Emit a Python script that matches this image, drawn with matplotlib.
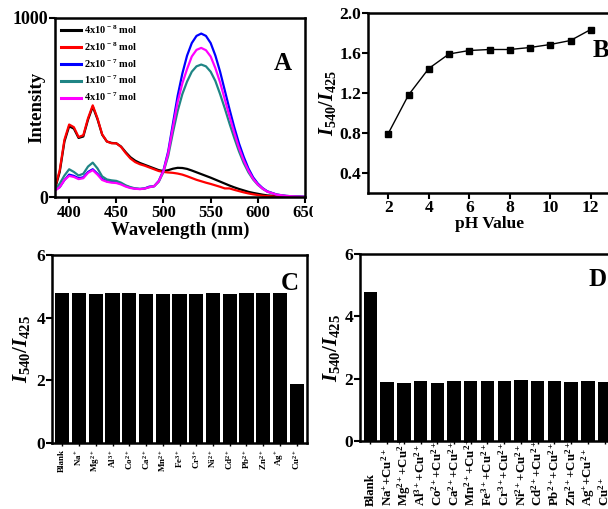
import numpy as np
import matplotlib
matplotlib.use("Agg")
import matplotlib.pyplot as plt
from matplotlib.patches import Rectangle
from matplotlib.transforms import blended_transform_factory

plt.rcParams['font.family'] = ['Liberation Serif', 'DejaVu Serif']
plt.rcParams['font.weight'] = 'bold'
plt.rcParams['mathtext.fontset'] = 'custom'
plt.rcParams['mathtext.rm'] = 'Liberation Serif:bold'
plt.rcParams['mathtext.bf'] = 'Liberation Serif:bold'
plt.rcParams['mathtext.it'] = 'Liberation Serif:bold:italic'
plt.rcParams['axes.linewidth'] = 1.8

# ---------------- Panel A data ----------------
wavelength = [385, 390, 395, 400, 405, 410, 415, 420, 425, 430, 435, 440, 445, 450, 455,
              460, 465, 470, 475, 480, 485, 490, 495, 500, 505, 510, 515, 520, 525, 530,
              535, 540, 545, 550, 555, 560, 565, 570, 575, 580, 585, 590, 595, 600, 605,
              610, 620, 630, 640, 650]
int_4e8 = [45, 140, 310, 395, 382, 330, 338, 432, 505, 435, 348, 310, 302, 300, 282,
           250, 222, 203, 190, 180, 170, 160, 150, 145, 150, 158, 163, 162, 157, 148,
           138, 128, 118, 108, 97, 86, 75, 64, 54, 45, 37, 29, 23, 18, 13,
           9, 5, 3, 1, 0]
int_2e8 = [50, 150, 320, 405, 390, 335, 345, 440, 512, 440, 350, 310, 300, 300, 280,
           245, 215, 195, 183, 175, 165, 155, 145, 140, 137, 135, 131, 125, 116, 106,
           96, 88, 80, 73, 65, 57, 48, 48, 40, 33, 26, 20, 15, 11, 7,
           5, 2, 1, 0, 0]
int_2e7 = [40, 55, 95, 125, 118, 105, 110, 140, 155, 130, 100, 88, 85, 83, 75,
           62, 52, 47, 45, 48, 58, 60, 90, 150, 255, 410, 565, 690, 790, 860,
           900, 913, 900, 860, 790, 700, 595, 490, 390, 300, 225, 160, 110, 75, 50,
           32, 14, 6, 3, 1]
int_1e7 = [40, 75, 120, 155, 140, 120, 130, 170, 192, 160, 115, 98, 93, 90, 80,
           65, 55, 48, 45, 47, 55, 60, 85, 140, 230, 360, 480, 575, 645, 700,
           730, 740, 730, 700, 648, 575, 495, 410, 330, 255, 190, 138, 98, 68, 46,
           30, 13, 6, 3, 1]
int_4e7 = [35, 55, 95, 118, 112, 100, 105, 135, 150, 125, 95, 85, 80, 78, 70,
           58, 50, 46, 44, 47, 55, 60, 88, 145, 245, 390, 530, 635, 715, 785,
           822, 833, 820, 785, 720, 640, 545, 450, 360, 275, 205, 148, 102, 70, 47,
           30, 13, 6, 3, 1]
series_labels = [r'4x10$^{\,-8}$ mol', r'2x10$^{\,-8}$ mol', r'2x10$^{\,-7}$ mol',
                 r'1x10$^{\,-7}$ mol', r'4x10$^{\,-7}$ mol']
series_colors = ['#000000', '#ff0000', '#0000ff', '#1f8585', '#ff00ff']

# ---------------- Panel B data ----------------
ph = [2, 3, 4, 5, 6, 7, 8, 9, 10, 11, 12]
ratio_ph = [0.795, 1.18, 1.445, 1.59, 1.625, 1.635, 1.635, 1.655, 1.685, 1.725, 1.835]

# ---------------- Panel C data ----------------
ions_c = ['Blank', r'Na$^{+}$', r'Mg$^{2+}$', r'Al$^{3+}$', r'Co$^{2+}$', r'Ca$^{2+}$',
          r'Mn$^{2+}$', r'Fe$^{3+}$', r'Cr$^{3+}$', r'Ni$^{2+}$', r'Cd$^{2+}$',
          r'Pb$^{2+}$', r'Zn$^{2+}$', r'Ag$^{+}$', r'Cu$^{2+}$']
ratio_c = [4.80, 4.78, 4.76, 4.78, 4.78, 4.76, 4.76, 4.76, 4.76, 4.78, 4.76, 4.78,
           4.78, 4.78, 1.88]

# ---------------- Panel D data ----------------
ions_d = ['Blank', r'Na$^{+}$+Cu$^{2+}$', r'Mg$^{2+}$+Cu$^{2+}$', r'Al$^{3+}$+Cu$^{2+}$',
          r'Co$^{2+}$+Cu$^{2+}$', r'Ca$^{2+}$+Cu$^{2+}$', r'Mn$^{2+}$+Cu$^{2+}$',
          r'Fe$^{3+}$+Cu$^{2+}$', r'Cr$^{3+}$+Cu$^{2+}$', r'Ni$^{2+}$+Cu$^{2+}$',
          r'Cd$^{2+}$+Cu$^{2+}$', r'Pb$^{2+}$+Cu$^{2+}$', r'Zn$^{2+}$+Cu$^{2+}$',
          r'Ag$^{+}$+Cu$^{2+}$', r'Cu$^{2+}$']
ratio_d = [4.79, 1.90, 1.87, 1.91, 1.86, 1.94, 1.91, 1.91, 1.94, 1.96, 1.91, 1.94,
           1.90, 1.91, 1.90]

W, H = 608, 509
fig = plt.figure(figsize=(W / 100, H / 100), dpi=100)


def box(l, t, r, b):
    return [l / W, (H - b) / H, (r - l) / W, (b - t) / H]


ylab = r'$I_{540}/I_{425}$'

# ---------------- A ----------------
axA = fig.add_axes(box(55, 18, 305, 197))
for y, lab, c in zip([int_4e8, int_2e8, int_2e7, int_1e7, int_4e7], series_labels, series_colors):
    axA.plot(wavelength, y, color=c, lw=1.6, label=lab)
axA.set_xlim(385, 650)
axA.set_ylim(0, 1000)
axA.set_xticks([400, 450, 500, 550, 600, 650])
axA.set_yticks([0, 1000])
axA.tick_params(width=1.5, length=4, direction='out')
axA.tick_params(axis='x', labelsize=12, pad=2)
axA.tick_params(axis='y', labelsize=13, pad=1)
axA.set_xlabel('Wavelength (nm)', fontsize=13.5, fontweight='bold', labelpad=0)
axA.set_ylabel('Intensity', fontsize=13.5, fontweight='bold')
axA.yaxis.set_label_coords(-0.04, 0.5)
leg = axA.legend(loc='upper left', bbox_to_anchor=(0.0, 1.0), frameon=False, fontsize=7.5,
                 handlelength=1.9, handletextpad=0.3, labelspacing=0.42, borderaxespad=0.15)
for ln in leg.get_lines():
    ln.set_linewidth(2.2)
axA.text(0.912, 0.745, 'A', transform=axA.transAxes, fontsize=18, fontweight='bold',
         ha='center', va='center')

# ---------------- B ----------------
axB = fig.add_axes(box(368, 13, 611, 193))
axB.set_zorder(2)
axB.plot(ph, ratio_ph, color='black', lw=1.0, marker='s', ms=4.3)
axB.set_xlim(1, 13)
axB.set_ylim(0.2, 2.0)
axB.set_xticks([2, 4, 6, 8, 10, 12])
axB.set_yticks([0.4, 0.8, 1.2, 1.6, 2.0])
axB.set_yticklabels(['0.4', '0.8', '1.2', '1.6', '2.0'])
axB.tick_params(labelsize=12.5, width=1.5, length=4, direction='out', pad=1)
axB.set_xlabel('pH Value', fontsize=12.5, fontweight='bold', labelpad=0)
axB.set_ylabel(ylab, fontsize=14.5)
axB.yaxis.set_label_coords(-0.123, 0.5)
axB.text(0.959, 0.794, 'B', transform=axB.transAxes, fontsize=18, fontweight='bold',
         ha='center', va='center')

# cover for the cropped part of panel A's last tick label
fig.add_artist(Rectangle((313 / W, (H - 220) / H), 50 / W, 22 / H, transform=fig.transFigure,
                         facecolor='white', edgecolor='none', zorder=1))

# ---------------- C ----------------
axC = fig.add_axes(box(52, 255, 307, 443))
xc = np.arange(len(ions_c))
axC.bar(xc, ratio_c, width=0.85, color='black')
axC.set_xlim(-0.62, len(ions_c) - 0.38)
axC.set_ylim(0, 6)
axC.set_yticks([0, 2, 4, 6])
axC.set_xticks(xc)
axC.set_xticklabels(ions_c, rotation=90, fontsize=6.5)
axC.tick_params(axis='y', labelsize=12.5, width=1.5, length=4, direction='out', pad=1)
axC.tick_params(axis='x', width=1.0, length=2.5, direction='out', pad=2)
axC.set_ylabel(ylab, fontsize=15)
axC.yaxis.set_label_coords(-0.078, 0.5)
axC.text(0.933, 0.85, 'C', transform=axC.transAxes, fontsize=18, fontweight='bold',
         ha='center', va='center')

# ---------------- D ----------------
axD = fig.add_axes(box(360, 254, 615, 441))
xd = np.arange(len(ions_d))
axD.bar(xd, ratio_d, width=0.8, color='black')
axD.set_xlim(-0.62, len(ions_d) - 0.38)
axD.set_ylim(0, 6)
axD.set_yticks([0, 2, 4, 6])
axD.set_xticks(xd)
axD.set_xticklabels([])
trD = blended_transform_factory(axD.transData, axD.transAxes)
for xi, lab in zip(xd, ions_d):
    axD.text(xi, -0.345, lab, transform=trD, rotation=90, ha='center', va='bottom',
             fontsize=9.3, clip_on=False)
axD.tick_params(axis='y', labelsize=12.5, width=1.5, length=4, direction='out', pad=1)
axD.tick_params(axis='x', width=1.0, length=2.5, direction='out', pad=2)
axD.set_ylabel(ylab, fontsize=15)
axD.yaxis.set_label_coords(-0.07, 0.5)
axD.text(0.93, 0.866, 'D', transform=axD.transAxes, fontsize=18, fontweight='bold',
         ha='center', va='center')

fig.savefig('out.png', dpi=100)
